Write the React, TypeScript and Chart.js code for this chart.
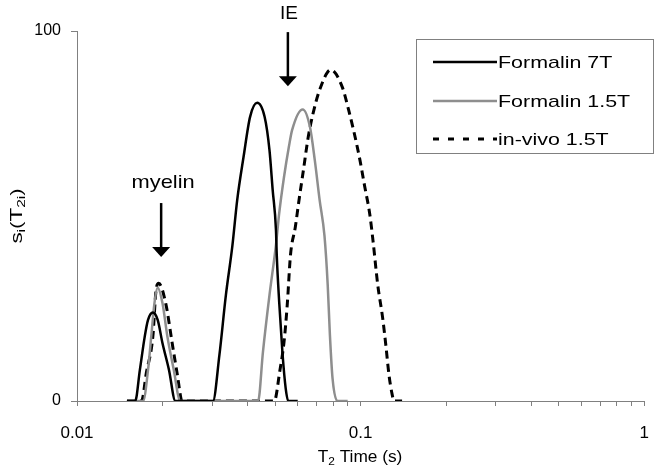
import React, { useEffect, useRef } from "react";
import { Chart, registerables } from "chart.js";
Chart.register(...registerables);

// ---- data (T2 time in s, amplitude) ----
const f7T_t = [0.015, 0.01604, 0.01666, 0.01733, 0.0178, 0.01851, 0.01925, 0.02002, 0.0211, 0.02223,
  0.03015, 0.03177, 0.03349, 0.0353, 0.03671, 0.03866, 0.04076, 0.04317, 0.04586, 0.04771, 0.04897, 0.05029, 0.05061, 0.05162, 0.05298, 0.05442, 0.05554, 0.06];
const f7T_s = [0, 0, 8.4, 17.4, 21.9, 23.9, 21.9, 15.6, 8.4, 0,
  0, 12.4, 28.6, 41.9, 54.3, 66.0, 76.8, 80.6, 76.8, 67.8, 57.0, 46.2, 39.5, 26.8, 13.3, 3.4, 0, 0];

const f15T_t = [0.015, 0.01711, 0.0178, 0.01827, 0.01875, 0.01925, 0.02002, 0.02083, 0.02194, 0.02312,
  0.04351, 0.04525, 0.04771, 0.05029, 0.05162, 0.0537, 0.05585, 0.05732, 0.06251, 0.06626, 0.06892, 0.07169, 0.07457, 0.07654, 0.07793, 0.07961, 0.08278, 0.09];
const f15T_s = [0, 0, 8.4, 17.4, 26.4, 30.6, 26.4, 17.4, 8.4, 0,
  0, 13.3, 28.6, 42.2, 50.7, 60.6, 68.7, 73.2, 78.8, 74.1, 65.1, 54.3, 44.6, 31.4, 17.8, 6.1, 0, 0];

const vivo_t = [0.015, 0.01688, 0.01756, 0.01851, 0.019, 0.01941, 0.02055, 0.02166, 0.02254, 0.02349,
  0.04952, 0.05029, 0.05162, 0.0537, 0.0551, 0.05659, 0.05887, 0.06041, 0.06284, 0.06537, 0.068, 0.07169, 0.07852,
  0.0861, 0.09076, 0.09441, 0.09945, 0.1034, 0.1076, 0.1105, 0.1149, 0.1196, 0.1227, 0.1259, 0.1293, 0.131, 0.14];
const vivo_s = [0, 0, 7.6, 17.4, 30.0, 31.8, 26.4, 15.6, 7.5, 0,
  0, 1.2, 7.0, 16.0, 25.9, 39.5, 47.1, 53.4, 62.4, 71.4, 77.8, 84.1, 89.5,
  84.9, 78.6, 73.2, 65.1, 57.9, 50.7, 43.5, 31.4, 22.4, 15.1, 7.0, 1.6, 0, 0];

const seriesNames = ["Formalin 7T", "Formalin 1.5T", "in-vivo 1.5T"];
const xTickLabels = ["0.01", "0.1", "1"];
const yTickValues = [0, 100];

// annotations (data coordinates)
const annoLabels = ["myelin", "IE"];
const annoT = [0.0198, 0.0554];
const annoTextY = [58.9, 104.6];
const annoTop = [53.5, 99.7];
const annoHeadBase = [41.6, 87.8];
const annoTip = [38.9, 85.1];

const FONT = '"Liberation Sans", Arial, Helvetica, sans-serif';

function toPts(t: number[], s: number[]) {
  return t.map((v, i) => ({ x: v, y: s[i] }));
}

function drawStretched(ctx: CanvasRenderingContext2D, text: string, x: number, y: number, sx: number, align: "left" | "center") {
  ctx.save();
  ctx.translate(x, y);
  ctx.scale(sx, 1);
  ctx.textAlign = align;
  ctx.fillText(text, 0, 0);
  ctx.restore();
}

function drawSubText(ctx: CanvasRenderingContext2D, parts: { t: string; sub: boolean }[], size: number, subSize: number, sx: number) {
  const widths = parts.map((p) => {
    ctx.font = `${p.sub ? subSize : size}px ${FONT}`;
    return ctx.measureText(p.t).width;
  });
  const total = widths.reduce((a, b) => a + b, 0);
  ctx.scale(sx, 1);
  let cx = -total / 2;
  ctx.textAlign = "left";
  ctx.textBaseline = "middle";
  parts.forEach((p, i) => {
    ctx.font = `${p.sub ? subSize : size}px ${FONT}`;
    ctx.fillText(p.t, cx, p.sub ? 4 : 0);
    cx += widths[i];
  });
}

const decor = {
  id: "decor",
  afterDraw(chart: any) {
    const ctx: CanvasRenderingContext2D = chart.ctx;
    const xs = chart.scales.x;
    const ys = chart.scales.y;
    ctx.save();
    ctx.fillStyle = "#000";
    ctx.strokeStyle = "#000";

    annoLabels.forEach((lab, i) => {
      const px = xs.getPixelForValue(annoT[i]);
      const top = ys.getPixelForValue(annoTop[i]);
      const base = ys.getPixelForValue(annoHeadBase[i]);
      const tip = ys.getPixelForValue(annoTip[i]);
      ctx.lineWidth = 2.5;
      ctx.beginPath();
      ctx.moveTo(px, top);
      ctx.lineTo(px, base + 1);
      ctx.stroke();
      ctx.beginPath();
      ctx.moveTo(px - 9, base);
      ctx.lineTo(px + 9, base);
      ctx.lineTo(px, tip);
      ctx.closePath();
      ctx.fill();
      ctx.font = `19px ${FONT}`;
      ctx.textBaseline = "middle";
      drawStretched(ctx, lab, px + (i === 0 ? 2 : 1), ys.getPixelForValue(annoTextY[i]), i === 0 ? 1.15 : 1.0, "center");
    });

    // x title
    ctx.save();
    ctx.translate(360, 458);
    drawSubText(ctx, [{ t: "T", sub: false }, { t: "2", sub: true }, { t: " Time (s)", sub: false }], 16, 11, 1.08);
    ctx.restore();

    // y title
    ctx.save();
    ctx.translate(18, 216);
    ctx.rotate(-Math.PI / 2);
    drawSubText(ctx, [{ t: "s", sub: false }, { t: "i", sub: true }, { t: "(T", sub: false }, { t: "2i", sub: true }, { t: ")", sub: false }], 16, 11, 1.4);
    ctx.restore();

    // legend
    const bx = 416.5, by = 39.5, bw = 237, bh = 114;
    ctx.fillStyle = "#fff";
    ctx.fillRect(bx, by, bw, bh);
    ctx.strokeStyle = "#808080";
    ctx.lineWidth = 1;
    ctx.strokeRect(bx, by, bw, bh);
    const rows = [62, 101, 139];
    chart.data.datasets.forEach((ds: any, i: number) => {
      ctx.strokeStyle = ds.borderColor;
      ctx.lineWidth = ds.borderWidth;
      ctx.setLineDash(i === 2 ? [6, 9] : []);
      ctx.beginPath();
      ctx.moveTo(433, rows[i]);
      ctx.lineTo(497, rows[i]);
      ctx.stroke();
      ctx.setLineDash([]);
      ctx.fillStyle = "#000";
      ctx.font = `17px ${FONT}`;
      ctx.textBaseline = "middle";
      drawStretched(ctx, ds.label, 498, rows[i] + 1, 1.26, "left");
    });
    ctx.restore();
  },
};

export default function App() {
  const ref = useRef<HTMLCanvasElement | null>(null);
  useEffect(() => {
    if (!ref.current) return;
    const mk = (label: string, t: number[], s: number[], color: string, width: number, dash: number[]) => ({
      label,
      data: toPts(t, s),
      borderColor: color,
      backgroundColor: color,
      borderWidth: width,
      borderDash: dash,
      pointRadius: 0,
      fill: false,
      cubicInterpolationMode: "monotone" as const,
    });
    const chart = new Chart(ref.current, {
      type: "line",
      data: {
        datasets: [
          mk(seriesNames[0], f7T_t, f7T_s, "#000000", 2.5, []),
          mk(seriesNames[1], f15T_t, f15T_s, "#8e8e8e", 2.5, []),
          mk(seriesNames[2], vivo_t, vivo_s, "#000000", 3, [8, 5]),
        ],
      },
      options: {
        responsive: false,
        animation: false,
        events: [],
        layout: { padding: { top: 31, right: 5, bottom: 0, left: 0 } },
        plugins: { legend: { display: false }, tooltip: { enabled: false } },
        scales: {
          x: {
            type: "logarithmic",
            min: 0.01,
            max: 1,
            afterBuildTicks: (s: any) => {
              const t: { value: number }[] = [];
              [0.01, 0.1].forEach((d) => {
                for (let k = 1; k <= 9; k++) t.push({ value: +(k * d).toPrecision(3) });
              });
              t.push({ value: 1 });
              s.ticks = t;
            },
            afterFit: (s: any) => {
              s.height = 65;
            },
            ticks: {
              autoSkip: false,
              maxRotation: 0,
              padding: 17,
              color: "#000",
              font: { family: FONT, size: 17 },
              callback: (v: any) => {
                const idx = [0.01, 0.1, 1].findIndex((d) => Math.abs(d - Number(v)) < 1e-9);
                return idx >= 0 ? xTickLabels[idx] : "";
              },
            },
            grid: { drawOnChartArea: false, drawTicks: true, tickLength: 5, color: "#808080", lineWidth: 1 },
            border: { display: true, color: "#808080", width: 1 },
          },
          y: {
            type: "linear",
            min: 0,
            max: 100,
            afterBuildTicks: (s: any) => {
              s.ticks = yTickValues.map((v) => ({ value: v }));
            },
            afterFit: (s: any) => {
              s.width = 77;
            },
            ticks: {
              padding: 10,
              color: "#000",
              font: { family: FONT, size: 16 },
              callback: (v: any) => String(v),
            },
            grid: { drawOnChartArea: false, drawTicks: true, tickLength: 6, color: "#808080", lineWidth: 1 },
            border: { display: true, color: "#808080", width: 1 },
          },
        },
      },
      plugins: [decor],
    } as any);
    return () => chart.destroy();
  }, []);
  return (
    <div style={{ position: "fixed", left: 0, top: 0, width: 666, height: 466, background: "#fff" }}>
      <canvas ref={ref} width={666} height={466} />
    </div>
  );
}
